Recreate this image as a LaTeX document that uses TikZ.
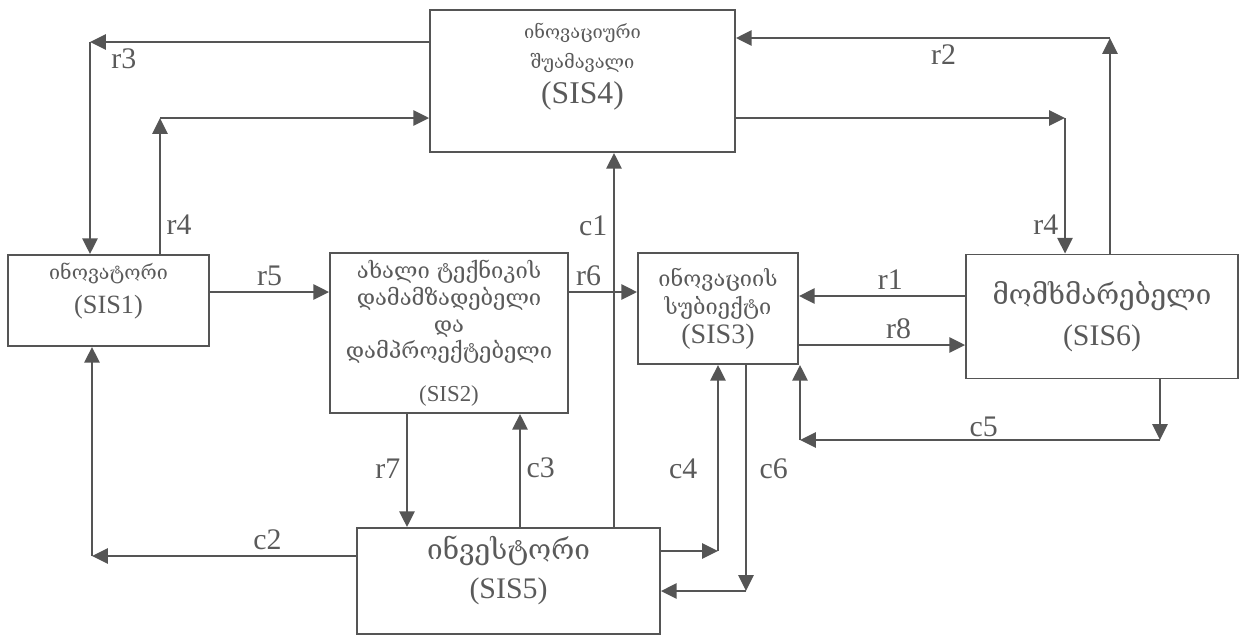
\documentclass[tikz,border=0pt]{standalone}
\usepackage{fontspec}
\setmainfont{Liberation Serif}
\newfontfamily\geofont{DejaVu Serif}
\usepackage{tikz}
\usetikzlibrary{arrows.meta,positioning}
\definecolor{linegray}{HTML}{555555}
\definecolor{textgray}{HTML}{5A5A5A}
\newcommand{\geo}[2]{\geofont\fontsize{#1}{#2}\selectfont}
\newcommand{\lat}[1]{\rmfamily\fontsize{#1}{#1}\selectfont}
\tikzstyle{box}=[rectangle,draw=linegray,line width=1pt,inner sep=0pt,align=center,text=textgray]
\tikzstyle{coef}=[-{Triangle[length=9pt,width=8.5pt]},line width=1.6pt,draw=linegray]
\tikzstyle{lbl}=[text=textgray,font=\fontsize{17}{17}\selectfont,inner sep=3pt]

\begin{document}
\begin{tikzpicture}[x=0.02cm,y=-0.02cm]
    \useasboundingbox (0,0) rectangle (1241,636);

    % Knoten
    \node[box,minimum width=6.1cm,minimum height=2.84cm,text depth=20pt,font=\geo{10.4}{12.5}] (sis4) at (582.5,81)
        {ინოვაციური\\[4.6pt]შუამავალი\\[4.4pt]\lat{18}(SIS4)};
    \node[box,minimum width=4.02cm,minimum height=1.82cm,text depth=14pt,font=\geo{11.2}{13.5}] (sis1) at (108.5,300.5)
        {ინოვატორი\\[6.3pt]\lat{15}(SIS1)};
    \node[box,minimum width=4.76cm,minimum height=3.2cm,font=\geo{12.5}{15}] (sis2) at (449,333)
        {ახალი ტექნიკის\\[0.8pt]დამამზადებელი\\და\\დამპროექტებელი\\[9.5pt]\lat{13}(SIS2)};
    \node[box,minimum width=3.2cm,minimum height=2.22cm,font=\geo{12.4}{14.9}] (sis3) at (718,308.5)
        {ინოვაციის\\[1.1pt]სუბიექტი\\[1.7pt]\lat{16}(SIS3)};
    \node[box,minimum width=5.44cm,minimum height=2.48cm,font=\geo{15.8}{19}] (sis6) at (1102,316.5)
        {მომხმარებელი\\[4.6pt]\lat{17}(SIS6)};
    \node[box,minimum width=6.06cm,minimum height=2.12cm,text depth=15.4pt,font=\geo{15.9}{19}] (sis5) at (508.5,581)
        {ინვესტორი\\[2.9pt]\lat{17}(SIS5)};

    % Eckpunkte
    \coordinate (r3a) at (90,42);
    \coordinate (r4a) at (160,118);
    \coordinate (r2a) at (1110,38);
    \coordinate (r4b) at (1065,118);
    \coordinate (c2a) at (92,556);
    \coordinate (c4a) at (718,551);
    \coordinate (c6a) at (746,591);
    \coordinate (c5a) at (1160,440);
    \coordinate (c5b) at (800,440);
    \coordinate (y5) at (0,292);
    \coordinate (y1) at (0,296);
    \coordinate (y8) at (0,345);
    \coordinate (xc1) at (614,0);
    \coordinate (xr7) at (407,0);
    \coordinate (xc3) at (520,0);

    % Verbindungen
    \draw [coef] (sis4.west |- r3a) -- node[lbl,below,pos=0.9] {r3} (r3a);
    \draw [coef] (r3a) -- (r3a |- sis1.north);
    \draw [coef] (r4a |- sis1.north) -- node[lbl,right,pos=0.22] {r4} (r4a);
    \draw [coef] (r4a) -- (sis4.west |- r4a);
    \draw [coef] (r2a |- sis6.north) -- (r2a);
    \draw [coef] (r2a) -- node[lbl,below,pos=0.445] {r2} (sis4.east |- r2a);
    \draw [coef] (sis4.east |- r4b) -- (r4b);
    \draw [coef] (r4b) -- node[lbl,left,pos=0.79] {r4} (r4b |- sis6.north);
    \draw [coef] (sis1.east |- y5) -- node[lbl,above] {r5} (sis2.west |- y5);
    \draw [coef] (sis2.east |- y5) -- node[lbl,above,pos=0.29] {r6} (sis3.west |- y5);
    \draw [coef] (sis6.west |- y1) -- node[lbl,above,pos=0.45] {r1} (sis3.east |- y1);
    \draw [coef] (sis3.east |- y8) -- node[lbl,above,pos=0.6] {r8} (sis6.west |- y8);
    \draw [coef] (xc1 |- sis5.north) -- node[lbl,left,pos=0.806] {c1} (xc1 |- sis4.south);
    \draw [coef] (xr7 |- sis2.south) -- node[lbl,left,pos=0.48] {r7} (xr7 |- sis5.north);
    \draw [coef] (xc3 |- sis5.north) -- node[lbl,right,pos=0.52] {c3} (xc3 |- sis2.south);
    \draw [coef] (sis5.west |- c2a) -- node[lbl,above,pos=0.336] {c2} (c2a);
    \draw [coef] (c2a) -- (c2a |- sis1.south);
    \draw [coef] (sis5.east |- c4a) -- (c4a);
    \draw [coef] (c4a) -- node[lbl,left,pos=0.44,xshift=-8pt] {c4} (c4a |- sis3.south);
    \draw [coef] (c6a |- sis3.south) -- node[lbl,right,pos=0.46,xshift=4pt] {c6} (c6a);
    \draw [coef] (c6a) -- (sis5.east |- c6a);
    \draw [coef] (c5a |- sis6.south) -- (c5a);
    \draw [coef] (c5a) -- node[lbl,above,pos=0.49,inner sep=1pt] {c5} (c5b);
    \draw [coef] (c5b) -- (c5b |- sis3.south);

\end{tikzpicture}
\end{document}
